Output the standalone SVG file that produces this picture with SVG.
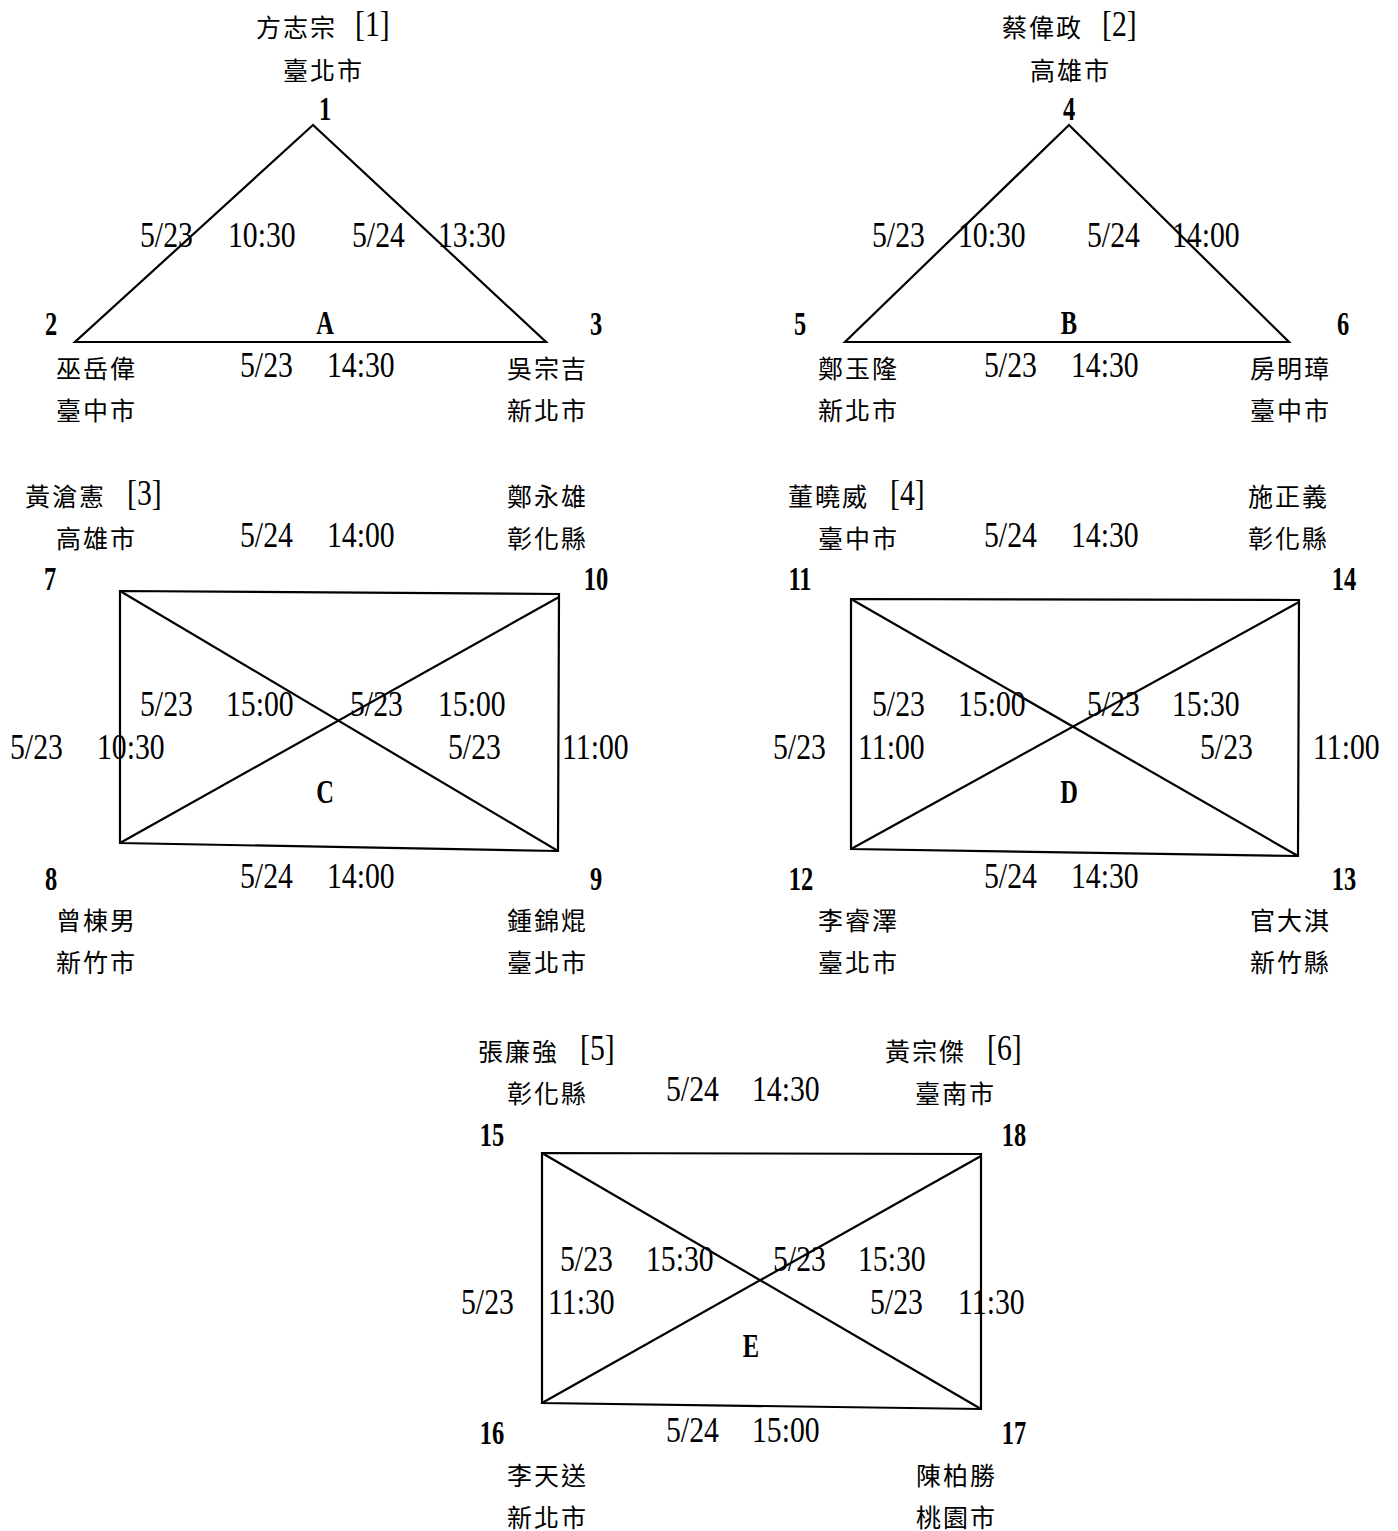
<svg xmlns="http://www.w3.org/2000/svg" width="1398" height="1531" viewBox="0 0 1398 1531">
<style>
.n{font-family:"Liberation Serif",serif;font-size:35px;fill:#000}
.b{font-family:"Liberation Serif",serif;font-size:34px;font-weight:bold;fill:#000;text-anchor:middle}
.c{font-family:"Noto Sans CJK TC","Noto Sans CJK SC",sans-serif;font-size:25px;letter-spacing:2px;fill:#000}
.e{fill:none;stroke:#000;stroke-width:2.2;stroke-linejoin:miter}
</style>
<rect width="1398" height="1531" fill="#fff"/>
<g id="connectors">
  <polygon class="e" points="313,125 75,342 546,342"/>
  <polygon class="e" points="1069,125 845,342 1289,342"/>
  <polygon class="e" points="120,591 559,594 558,851 120,843"/>
  <line class="e" x1="120" y1="591" x2="558" y2="851"/>
  <line class="e" x1="120" y1="843" x2="559" y2="597"/>
  <polygon class="e" points="851,599 1299,600 1298,856 851,849"/>
  <line class="e" x1="851" y1="599" x2="1298" y2="856"/>
  <line class="e" x1="851" y1="849" x2="1299" y2="602"/>
  <polygon class="e" points="542,1153 981,1154 981,1409 542,1403"/>
  <line class="e" x1="542" y1="1153" x2="981" y2="1409"/>
  <line class="e" x1="542" y1="1403" x2="981" y2="1156"/>
  <g id="edge-labels">
    <text class="n" transform="matrix(.85 0 0 1 140 247)">5/23</text>
    <text class="n" transform="matrix(.85 0 0 1 228 247)">10:30</text>
    <text class="n" transform="matrix(.85 0 0 1 352 247)">5/24</text>
    <text class="n" transform="matrix(.85 0 0 1 438 247)">13:30</text>
    <text class="n" transform="matrix(.85 0 0 1 240 377)">5/23</text>
    <text class="n" transform="matrix(.85 0 0 1 327 377)">14:30</text>

    <text class="n" transform="matrix(.85 0 0 1 872 247)">5/23</text>
    <text class="n" transform="matrix(.85 0 0 1 958 247)">10:30</text>
    <text class="n" transform="matrix(.85 0 0 1 1087 247)">5/24</text>
    <text class="n" transform="matrix(.85 0 0 1 1172 247)">14:00</text>
    <text class="n" transform="matrix(.85 0 0 1 984 377)">5/23</text>
    <text class="n" transform="matrix(.85 0 0 1 1071 377)">14:30</text>

    <text class="n" transform="matrix(.85 0 0 1 240 547)">5/24</text>
    <text class="n" transform="matrix(.85 0 0 1 327 547)">14:00</text>
    <text class="n" transform="matrix(.85 0 0 1 140 716)">5/23</text>
    <text class="n" transform="matrix(.85 0 0 1 226 716)">15:00</text>
    <text class="n" transform="matrix(.85 0 0 1 350 716)">5/23</text>
    <text class="n" transform="matrix(.85 0 0 1 438 716)">15:00</text>
    <text class="n" transform="matrix(.85 0 0 1 10 759)">5/23</text>
    <text class="n" transform="matrix(.85 0 0 1 97 759)">10:30</text>
    <text class="n" transform="matrix(.85 0 0 1 448 759)">5/23</text>
    <text class="n" transform="matrix(.85 0 0 1 562 759)">11:00</text>
    <text class="n" transform="matrix(.85 0 0 1 240 888)">5/24</text>
    <text class="n" transform="matrix(.85 0 0 1 327 888)">14:00</text>

    <text class="n" transform="matrix(.85 0 0 1 984 547)">5/24</text>
    <text class="n" transform="matrix(.85 0 0 1 1071 547)">14:30</text>
    <text class="n" transform="matrix(.85 0 0 1 872 716)">5/23</text>
    <text class="n" transform="matrix(.85 0 0 1 958 716)">15:00</text>
    <text class="n" transform="matrix(.85 0 0 1 1087 716)">5/23</text>
    <text class="n" transform="matrix(.85 0 0 1 1172 716)">15:30</text>
    <text class="n" transform="matrix(.85 0 0 1 773 759)">5/23</text>
    <text class="n" transform="matrix(.85 0 0 1 858 759)">11:00</text>
    <text class="n" transform="matrix(.85 0 0 1 1200 759)">5/23</text>
    <text class="n" transform="matrix(.85 0 0 1 1313 759)">11:00</text>
    <text class="n" transform="matrix(.85 0 0 1 984 888)">5/24</text>
    <text class="n" transform="matrix(.85 0 0 1 1071 888)">14:30</text>

    <text class="n" transform="matrix(.85 0 0 1 666 1101)">5/24</text>
    <text class="n" transform="matrix(.85 0 0 1 752 1101)">14:30</text>
    <text class="n" transform="matrix(.85 0 0 1 560 1271)">5/23</text>
    <text class="n" transform="matrix(.85 0 0 1 646 1271)">15:30</text>
    <text class="n" transform="matrix(.85 0 0 1 773 1271)">5/23</text>
    <text class="n" transform="matrix(.85 0 0 1 858 1271)">15:30</text>
    <text class="n" transform="matrix(.85 0 0 1 461 1314)">5/23</text>
    <text class="n" transform="matrix(.85 0 0 1 548 1314)">11:30</text>
    <text class="n" transform="matrix(.85 0 0 1 870 1314)">5/23</text>
    <text class="n" transform="matrix(.85 0 0 1 958 1314)">11:30</text>
    <text class="n" transform="matrix(.85 0 0 1 666 1442)">5/24</text>
    <text class="n" transform="matrix(.85 0 0 1 752 1442)">15:00</text>
  </g>
</g>

<g id="pool-labels">
  <text class="b" transform="matrix(.72 0 0 1 325 334)">A</text>
  <text class="b" transform="matrix(.72 0 0 1 1069 334)">B</text>
  <text class="b" transform="matrix(.72 0 0 1 325 803)">C</text>
  <text class="b" transform="matrix(.72 0 0 1 1069 803)">D</text>
  <text class="b" transform="matrix(.72 0 0 1 751 1357)">E</text>
</g>

<g id="node-1">
  <text class="c" x="256" y="37">方志宗</text>
  <text class="n" transform="matrix(.85 0 0 1 355 36)">[1]</text>
  <text class="c" x="283" y="80">臺北市</text>
  <text class="b" transform="matrix(.72 0 0 1 325 120)">1</text>
</g>
<g id="node-2">
  <text class="b" transform="matrix(.72 0 0 1 51 335)">2</text>
  <text class="c" x="56" y="378">巫岳偉</text>
  <text class="c" x="56" y="420">臺中市</text>
</g>
<g id="node-3">
  <text class="b" transform="matrix(.72 0 0 1 596 335)">3</text>
  <text class="c" x="507" y="378">吳宗吉</text>
  <text class="c" x="507" y="420">新北市</text>
</g>

<g id="node-4">
  <text class="c" x="1002" y="37">蔡偉政</text>
  <text class="n" transform="matrix(.85 0 0 1 1102 36)">[2]</text>
  <text class="c" x="1030" y="80">高雄市</text>
  <text class="b" transform="matrix(.72 0 0 1 1069 120)">4</text>
</g>
<g id="node-5">
  <text class="b" transform="matrix(.72 0 0 1 800 335)">5</text>
  <text class="c" x="818" y="378">鄭玉隆</text>
  <text class="c" x="818" y="420">新北市</text>
</g>
<g id="node-6">
  <text class="b" transform="matrix(.72 0 0 1 1343 335)">6</text>
  <text class="c" x="1250" y="378">房明璋</text>
  <text class="c" x="1250" y="420">臺中市</text>
</g>

<g id="node-7">
  <text class="c" x="25" y="506">黃滄憲</text>
  <text class="n" transform="matrix(.85 0 0 1 127 505)">[3]</text>
  <text class="c" x="56" y="548">高雄市</text>
  <text class="b" transform="matrix(.72 0 0 1 50 590)">7</text>
</g>
<g id="node-10">
  <text class="c" x="507" y="506">鄭永雄</text>
  <text class="c" x="507" y="548">彰化縣</text>
  <text class="b" transform="matrix(.72 0 0 1 596 590)">10</text>
</g>
<g id="node-8">
  <text class="b" transform="matrix(.72 0 0 1 51 890)">8</text>
  <text class="c" x="56" y="930">曾棟男</text>
  <text class="c" x="56" y="972">新竹市</text>
</g>
<g id="node-9">
  <text class="b" transform="matrix(.72 0 0 1 596 890)">9</text>
  <text class="c" x="507" y="930">鍾錦焜</text>
  <text class="c" x="507" y="972">臺北市</text>
</g>

<g id="node-11">
  <text class="c" x="788" y="506">董曉威</text>
  <text class="n" transform="matrix(.85 0 0 1 890 505)">[4]</text>
  <text class="c" x="818" y="548">臺中市</text>
  <text class="b" transform="matrix(.72 0 0 1 800 590)">11</text>
</g>
<g id="node-14">
  <text class="c" x="1248" y="506">施正義</text>
  <text class="c" x="1248" y="548">彰化縣</text>
  <text class="b" transform="matrix(.72 0 0 1 1344 590)">14</text>
</g>
<g id="node-12">
  <text class="b" transform="matrix(.72 0 0 1 801 890)">12</text>
  <text class="c" x="818" y="930">李睿澤</text>
  <text class="c" x="818" y="972">臺北市</text>
</g>
<g id="node-13">
  <text class="b" transform="matrix(.72 0 0 1 1344 890)">13</text>
  <text class="c" x="1250" y="930">官大淇</text>
  <text class="c" x="1250" y="972">新竹縣</text>
</g>

<g id="node-15">
  <text class="c" x="478" y="1061">張廉強</text>
  <text class="n" transform="matrix(.85 0 0 1 580 1060)">[5]</text>
  <text class="c" x="507" y="1103">彰化縣</text>
  <text class="b" transform="matrix(.72 0 0 1 492 1146)">15</text>
</g>
<g id="node-18">
  <text class="c" x="885" y="1061">黃宗傑</text>
  <text class="n" transform="matrix(.85 0 0 1 987 1060)">[6]</text>
  <text class="c" x="915" y="1103">臺南市</text>
  <text class="b" transform="matrix(.72 0 0 1 1014 1146)">18</text>
</g>
<g id="node-16">
  <text class="b" transform="matrix(.72 0 0 1 492 1444)">16</text>
  <text class="c" x="507" y="1485">李天送</text>
  <text class="c" x="507" y="1527">新北市</text>
</g>
<g id="node-17">
  <text class="b" transform="matrix(.72 0 0 1 1014 1444)">17</text>
  <text class="c" x="916" y="1485">陳柏勝</text>
  <text class="c" x="916" y="1527">桃園市</text>
</g>
</svg>
